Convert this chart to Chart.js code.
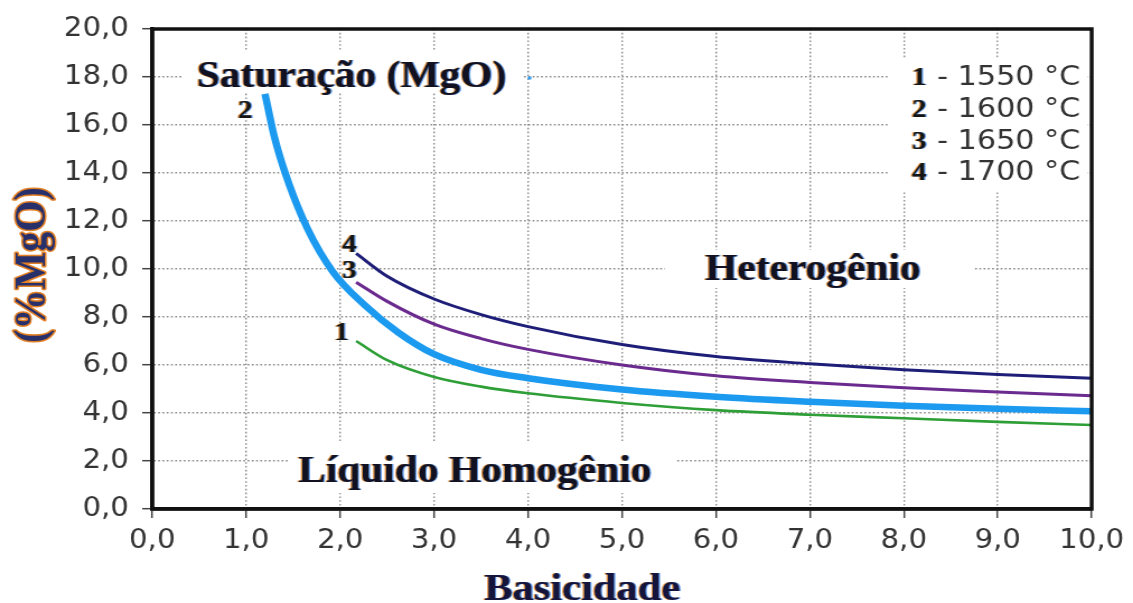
<!DOCTYPE html>
<html>
<head>
<meta charset="utf-8">
<title>Saturação de MgO × Basicidade</title>
<script src="https://cdn.jsdelivr.net/npm/chart.js@4.4.1/dist/chart.umd.min.js"></script>
<style>
  html, body { margin: 0; padding: 0; background: #ffffff; overflow: hidden; }
  /* the drawing is slightly widened, like the printed figure */
  #wrap { position: relative; width: 1012px; height: 603px; transform: scaleX(1.1196); transform-origin: 0 0; }
</style>
</head>
<body>
<div id="wrap"><canvas id="chart"></canvas></div>
<script>
// Isotherms of MgO saturation vs. slag basicity
// curve 1 - 1550 °C
const basicity1550 = [2.17, 2.5, 3.0, 3.5, 4.0, 5.0, 6.0, 7.0, 8.0, 9.0, 10.0];
const mgo1550      = [7.0, 6.2, 5.5, 5.1, 4.82, 4.42, 4.12, 3.93, 3.78, 3.63, 3.5];
// curve 2 - 1600 °C (saturation line)
const basicity1600 = [1.2, 1.3, 1.45, 1.65, 1.92, 2.26, 2.62, 3.0, 3.5, 4.0, 5.0, 6.0, 7.0, 8.0, 9.0, 10.0];
const mgo1600      = [17.3, 15.5, 13.6, 11.7, 9.9, 8.5, 7.35, 6.45, 5.8, 5.45, 4.98, 4.68, 4.47, 4.3, 4.18, 4.07];
// curve 3 - 1650 °C
const basicity1650 = [2.17, 2.5, 3.0, 3.5, 4.0, 5.0, 6.0, 7.0, 8.0, 9.0, 10.0];
const mgo1650      = [9.45, 8.65, 7.7, 7.1, 6.65, 6.0, 5.55, 5.27, 5.05, 4.88, 4.72];
// curve 4 - 1700 °C
const basicity1700 = [2.17, 2.5, 3.0, 3.5, 4.0, 5.0, 6.0, 7.0, 8.0, 9.0, 10.0];
const mgo1700      = [10.65, 9.7, 8.75, 8.1, 7.6, 6.85, 6.35, 6.05, 5.8, 5.6, 5.45];

const xTickLabels = ['0,0','1,0','2,0','3,0','4,0','5,0','6,0','7,0','8,0','9,0','10,0'];
const yTickLabels = ['0,0','2,0','4,0','6,0','8,0','10,0','12,0','14,0','16,0','18,0','20,0'];

const curveNumbers = ['1', '2', '3', '4'];
const legendTexts  = ['1550 °C', '1600 °C', '1650 °C', '1700 °C'];

const toPoints = (xs, ys) => xs.map((x, i) => ({ x: x, y: ys[i] }));

const SERIF = '"Liberation Serif", "Times New Roman", serif';
const SANS  = '"DejaVu Sans", Verdana, sans-serif';

// text with the coloured fringes of the printed labels
function fringeText(ctx, text, x, y, font, color, align) {
  ctx.font = font;
  ctx.textAlign = align || 'center';
  ctx.textBaseline = 'alphabetic';
  ctx.fillStyle = 'rgba(225,130,35,0.85)';
  ctx.fillText(text, x - 1.2, y);
  ctx.fillStyle = 'rgba(45,125,230,0.75)';
  ctx.fillText(text, x + 1.2, y);
  ctx.fillStyle = color;
  ctx.fillText(text, x, y);
}

function whiteBox(ctx, x1, y1, x2, y2) {
  ctx.fillStyle = '#ffffff';
  ctx.fillRect(x1, y1, x2 - x1, y2 - y1);
}

const annotations = {
  id: 'annotations',
  beforeDraw(chart) {
    const ctx = chart.ctx;
    ctx.save();
    ctx.fillStyle = '#ffffff';
    ctx.fillRect(0, 0, chart.width, chart.height);
    ctx.restore();
  },
  beforeDatasetsDraw(chart) {
    const ctx = chart.ctx;
    ctx.save();
    whiteBox(ctx, 162, 50, 466, 93);    // Saturação (MgO)
    whiteBox(ctx, 793, 58, 971, 192);   // temperatures
    whiteBox(ctx, 594, 250, 869, 288);  // Heterogênio
    whiteBox(ctx, 259, 443, 604, 493);  // Líquido Homogênio
    ctx.restore();
  },
  afterDatasetsDraw(chart) {
    const ctx = chart.ctx;
    const a = chart.chartArea;
    ctx.save();

    // region labels
    const big = 'bold 37px ' + SERIF;
    fringeText(ctx, 'Saturação (MgO)', 314, 87, big, '#111122');
    fringeText(ctx, 'Heterogênio', 726, 280, big, '#111122');
    fringeText(ctx, 'Líquido Homogênio', 424, 482, big, '#111122');

    // small marker after the saturation label
    ctx.fillStyle = '#2a9af0';
    ctx.fillRect(471.5, 76.5, 3, 3);

    // curve numbers
    const num = 'bold 26px ' + SERIF;
    fringeText(ctx, curveNumbers[1], 219, 118, num, '#151515');
    fringeText(ctx, curveNumbers[3], 312, 252, num, '#151515');
    fringeText(ctx, curveNumbers[2], 312, 278, num, '#151515');
    fringeText(ctx, curveNumbers[0], 305, 340, num, '#151515');

    // temperature key
    for (let i = 0; i < legendTexts.length; i++) {
      const by = 85 + i * 31.8;
      fringeText(ctx, curveNumbers[i], 821, by, num, '#151515');
      ctx.font = '27px ' + SANS;
      ctx.textAlign = 'left';
      ctx.fillStyle = '#333333';
      ctx.fillText('- ' + legendTexts[i], 837, by);
    }

    // frame around the plot
    ctx.strokeStyle = '#111111';
    ctx.lineWidth = 3.5;
    ctx.strokeRect(a.left, a.top, a.right - a.left, a.bottom - a.top);

    // axis titles
    fringeText(ctx, 'Basicidade', 520, 600, 'bold 38px ' + SERIF, '#14143c');
    ctx.save();
    ctx.translate(40, 265);
    ctx.rotate(-Math.PI / 2);
    ctx.font = 'bold 40px ' + SERIF;
    ctx.textAlign = 'center';
    ctx.textBaseline = 'alphabetic';
    ctx.lineJoin = 'round';
    ctx.strokeStyle = 'rgba(226,120,25,0.95)';
    ctx.lineWidth = 3;
    ctx.strokeText('(%MgO)', 0, 0);
    ctx.fillStyle = '#27306a';
    ctx.fillText('(%MgO)', 0, 0);
    ctx.restore();

    ctx.restore();
  }
};

const tickFont = { family: SANS, size: 26 };
const gridStyle = { color: '#8c8c8c', lineWidth: 1.4, tickLength: 9, tickColor: '#444444', tickWidth: 1.5, tickBorderDash: [] };
const borderStyle = { display: true, color: '#111111', width: 3.5, dash: [1.6, 2.2] };

new Chart(document.getElementById('chart'), {
  type: 'line',
  data: {
    datasets: [
      { label: '1550 °C', data: toPoints(basicity1550, mgo1550), borderColor: '#2e9e36', borderWidth: 2.6 },
      { label: '1650 °C', data: toPoints(basicity1650, mgo1650), borderColor: '#6a2a8e', borderWidth: 3 },
      { label: '1700 °C', data: toPoints(basicity1700, mgo1700), borderColor: '#1e1e78', borderWidth: 3 },
      { label: '1600 °C', data: toPoints(basicity1600, mgo1600), borderColor: '#1c9af0', borderWidth: 6.5 }
    ]
  },
  options: {
    responsive: true,
    maintainAspectRatio: false,
    animation: false,
    layout: { padding: { top: 29, right: 33, left: 0, bottom: 0 } },
    elements: {
      point: { radius: 0 },
      line: { cubicInterpolationMode: 'monotone', borderCapStyle: 'butt', fill: false }
    },
    plugins: { legend: { display: false }, tooltip: { enabled: false } },
    scales: {
      x: {
        type: 'linear', min: 0, max: 10,
        afterFit(scale) { scale.height = 94; },
        ticks: {
          stepSize: 1, autoSkip: false, maxRotation: 0, padding: 8,
          color: '#333333', font: tickFont,
          callback: (v, i) => xTickLabels[i]
        },
        grid: gridStyle,
        border: borderStyle
      },
      y: {
        type: 'linear', min: 0, max: 20,
        afterFit(scale) { scale.width = 136; },
        ticks: {
          stepSize: 2, autoSkip: false, padding: 12,
          color: '#333333', font: tickFont,
          callback: (v, i) => yTickLabels[i]
        },
        grid: gridStyle,
        border: borderStyle
      }
    }
  },
  plugins: [annotations]
});
</script>
</body>
</html>
